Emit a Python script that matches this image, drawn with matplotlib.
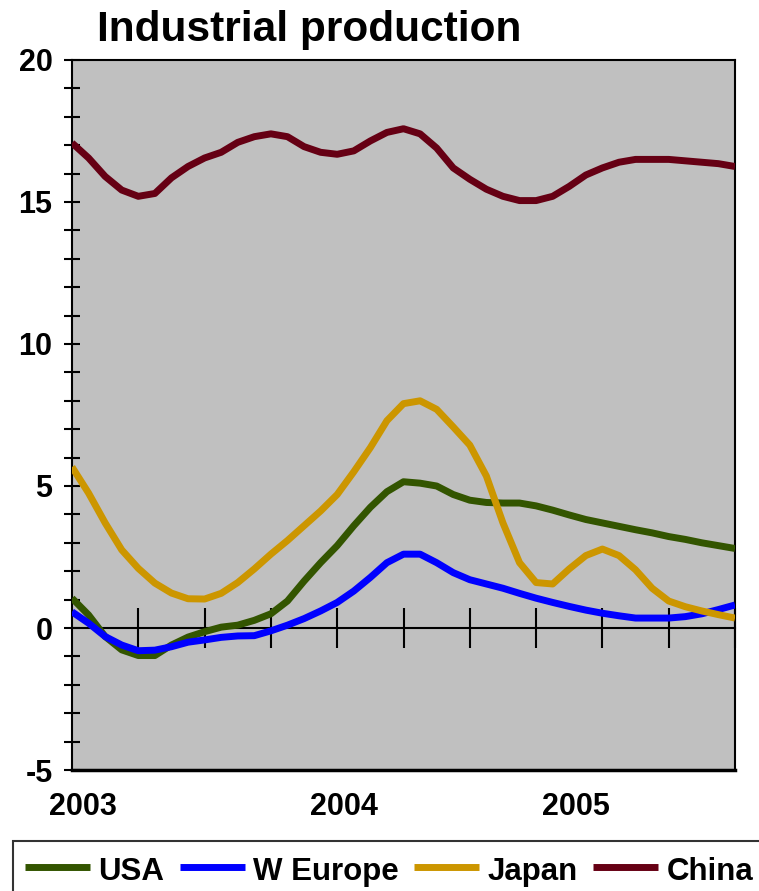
import matplotlib
matplotlib.use("Agg")
import matplotlib.pyplot as plt
import numpy as np
from matplotlib.ticker import MultipleLocator, FixedLocator, NullFormatter

plt.rcParams['font.family'] = ['Liberation Sans', 'DejaVu Sans']
plt.rcParams['font.weight'] = 'bold'
plt.rcParams['axes.unicode_minus'] = False

# ---- data (roughly semi-monthly observations, Jan 2003 - mid 2005) ----
usa = [1.05, 0.46, -0.3, -0.77, -0.97, -0.97, -0.6, -0.32, -0.13, 0.03,
       0.1, 0.27, 0.5, 0.95, 1.65, 2.3, 2.9, 3.6, 4.25, 4.8,
       5.15, 5.1, 5.0, 4.7, 4.5, 4.42, 4.4, 4.4, 4.3, 4.15,
       3.98, 3.82, 3.7, 3.58, 3.46, 3.35, 3.22, 3.12, 3.0, 2.9, 2.8]
w_europe = [0.57, 0.17, -0.3, -0.6, -0.8, -0.78, -0.66, -0.5, -0.42, -0.33,
            -0.28, -0.27, -0.1, 0.1, 0.33, 0.6, 0.9, 1.3, 1.78, 2.3,
            2.6, 2.6, 2.3, 1.95, 1.7, 1.55, 1.4, 1.22, 1.05, 0.9,
            0.76, 0.63, 0.52, 0.43, 0.35, 0.35, 0.35, 0.4, 0.5, 0.65, 0.81]
japan = [5.67, 4.75, 3.7, 2.75, 2.1, 1.58, 1.23, 1.03, 1.02, 1.22,
         1.6, 2.08, 2.6, 3.08, 3.6, 4.12, 4.7, 5.5, 6.35, 7.3,
         7.9, 8.0, 7.7, 7.08, 6.44, 5.35, 3.7, 2.3, 1.6, 1.55,
         2.08, 2.55, 2.78, 2.55, 2.05, 1.4, 0.95, 0.75, 0.6, 0.47, 0.35]
china = [17.08, 16.55, 15.9, 15.42, 15.2, 15.3, 15.85, 16.25, 16.55, 16.75,
         17.1, 17.3, 17.4, 17.3, 16.95, 16.75, 16.68, 16.8, 17.15, 17.45,
         17.58, 17.4, 16.9, 16.2, 15.8, 15.45, 15.2, 15.05, 15.05, 15.2,
         15.55, 15.95, 16.2, 16.4, 16.5, 16.5, 16.5, 16.45, 16.4, 16.35, 16.25]

series_names = ['USA', 'W Europe', 'Japan', 'China']
series_colors = ['#335500', '#0000ff', '#cc9600', '#660014']
year_labels = ['2003', '2004', '2005']
year_label_pos = [0.69, 16.41, 30.4]   # in observation-index units
y_major = [-5, 0, 5, 10, 15, 20]

x = np.arange(len(usa))

fig = plt.figure(figsize=(7.59, 8.91), dpi=100)
ax = fig.add_axes([72/759, 1-770/891, (735-72)/759, (770-60)/891])
ax.set_facecolor('#c0c0c0')

for vals, name, col in zip([usa, w_europe, japan, china], series_names, series_colors):
    ax.plot(x, vals, color=col, lw=5, label=name, solid_joinstyle='round',
            solid_capstyle='butt', zorder=3)

ax.set_xlim(0, len(usa) - 1)
ax.set_ylim(-5, 20)

for s in ['left', 'right', 'top']:
    ax.spines[s].set_color('black')
    ax.spines[s].set_linewidth(1.5)
ax.spines['bottom'].set_position(('data', 0))
ax.spines['bottom'].set_linewidth(1.5)
ax.spines['bottom'].set_zorder(2)
ax.axhline(-5, color='black', lw=2.5, clip_on=False, zorder=5)

ax.yaxis.set_major_locator(FixedLocator(y_major))
ax.yaxis.set_minor_locator(MultipleLocator(1))
ax.tick_params(axis='y', which='both', direction='inout', length=12, width=1.5,
               labelsize=22, pad=8)
ax.xaxis.set_major_locator(FixedLocator(list(range(4, len(usa), 4))))
ax.xaxis.set_major_formatter(NullFormatter())
ax.tick_params(axis='x', which='major', direction='inout', length=29, width=1.5)
ax.tick_params(axis='x', which='minor', length=0)

for lab in ax.get_yticklabels():
    lab.set_fontweight('bold')

for lab, pos in zip(year_labels, year_label_pos):
    ax.text(pos, -0.052, lab, transform=ax.get_xaxis_transform(), ha='center',
            va='center', fontsize=22, fontweight='bold', clip_on=False)

fig.text(97/759, 1-41/891, 'Industrial production', fontsize=30.5, fontweight='bold',
         ha='left', va='baseline')

leg = fig.legend(loc='upper left', bbox_to_anchor=(13/759, 1-841/891), ncol=4,
                 fontsize=22.5, frameon=True, fancybox=False, handlelength=2.08,
                 handleheight=1.28, handletextpad=0.26, columnspacing=0.5,
                 borderpad=0.38, borderaxespad=0)
leg.get_frame().set_edgecolor('black')
leg.get_frame().set_linewidth(1.5)
for t in leg.get_texts():
    t.set_fontweight('bold')

fig.savefig('out.png', dpi=100)
